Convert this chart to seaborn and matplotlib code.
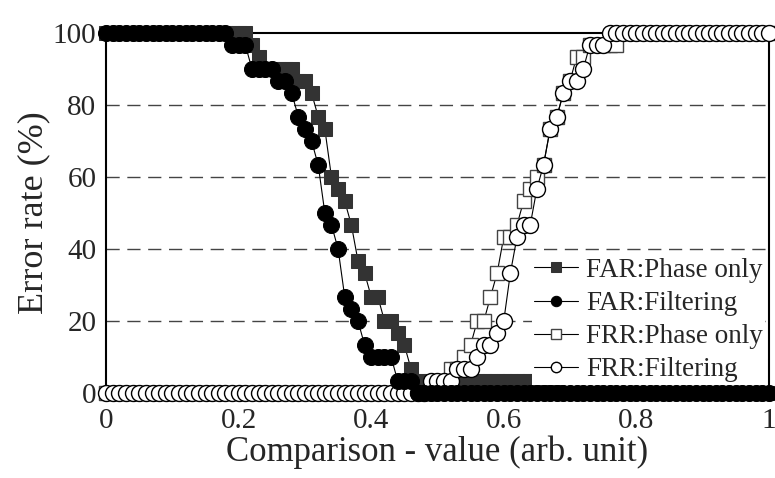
import numpy as np
import pandas as pd
import matplotlib
matplotlib.use("Agg")
import matplotlib.pyplot as plt
import seaborn as sns

# comparison value grid (0 .. 1, step 0.01)
comparison = np.linspace(0, 1, 101).round(2)

far_phase = ([100] * 22 + [96.7, 93.3] + [90] * 5 + [86.7] * 2 + [83.3, 76.7, 73.3, 60, 56.7,
             53.3, 46.7, 36.7, 33.3, 26.7, 26.7, 20, 20, 16.7, 13.3, 6.7] + [3.3] * 22 + [0] * 32)
far_filt = ([100] * 19 + [96.7] * 3 + [90] * 4 + [86.7] * 2 + [83.3, 76.7, 73.3, 70, 63.3, 50,
            46.7, 40, 26.7, 23.3, 20, 13.3] + [10] * 4 + [3.3] * 3 + [0] * 54)
frr_phase = ([0] * 51 + [3.3, 6.7, 6.7, 10, 13.3, 20, 20, 26.7, 33.3, 43.3, 43.3, 46.7, 53.3,
             56.7, 60, 63.3, 73.3, 76.7, 83.3, 86.7, 93.3, 93.3] + [96.7] * 5 + [100] * 23)
frr_filt = ([0] * 49 + [3.3] * 4 + [6.7, 6.7, 6.7, 10, 13.3, 13.3, 16.7, 20, 33.3, 43.3, 46.7,
            46.7, 56.7, 63.3, 73.3, 76.7, 83.3, 86.7, 86.7, 90, 96.7, 96.7, 96.7] + [100] * 25)

labels = ["FAR:Phase only", "FAR:Filtering", "FRR:Phase only", "FRR:Filtering"]

df = pd.DataFrame({"x": comparison, labels[0]: far_phase, labels[1]: far_filt,
                   labels[2]: frr_phase, labels[3]: frr_filt})

sns.set_style("white")
plt.rcParams['font.family'] = ['Liberation Serif', 'DejaVu Serif']

fig = plt.figure(figsize=(7.75, 4.78), dpi=100)
ax = fig.add_axes([0.137, 0.178, 0.855, 0.753])

styles = {
    labels[0]: dict(marker='s', markersize=10, markerfacecolor='#333333', markeredgecolor='#333333',
                    zorder=3),
    labels[1]: dict(marker='o', markersize=11.5, markerfacecolor='black', markeredgecolor='black',
                    zorder=6),
    labels[2]: dict(marker='s', markersize=10, markerfacecolor='white', markeredgecolor='#444444',
                    markeredgewidth=1.0, zorder=4),
    labels[3]: dict(marker='o', markersize=11.5, markerfacecolor='white', markeredgecolor='black',
                    markeredgewidth=1.0, zorder=5),
}

for lab in labels:
    sns.lineplot(data=df, x="x", y=lab, ax=ax, color='black', linewidth=0.8,
                 label=lab, clip_on=False, **styles[lab])

ax.set_xlim(0, 1)
ax.set_ylim(0, 100)
ax.set_xticks([0, 0.2, 0.4, 0.6, 0.8, 1.0])
ax.set_xticklabels(["0", "0.2", "0.4", "0.6", "0.8", "1"])
ax.set_yticks([0, 20, 40, 60, 80, 100])
ax.tick_params(axis='both', labelsize=21, length=0)
ax.tick_params(axis='x', pad=11)
ax.tick_params(axis='y', pad=7)
ax.set_xlabel("Comparison - value (arb. unit)", fontsize=25, labelpad=1)
ax.set_ylabel("Error rate (%)", fontsize=26, labelpad=2)

for y in [20, 40, 60, 80]:
    ax.axhline(y, color='#444444', linestyle=(0, (9.5, 5.5)), linewidth=1.0, zorder=0)

for s in ax.spines.values():
    s.set_color('black')
    s.set_linewidth(1.5)

leg = ax.legend(loc='lower right', bbox_to_anchor=(0.995, 0.022), fontsize=19.5, frameon=True,
                framealpha=1, edgecolor='none', fancybox=False, markerscale=0.65,
                handlelength=1.6, handletextpad=0.3, labelspacing=0.3, borderpad=0.1,
                borderaxespad=0)
leg.set_zorder(10)

fig.savefig("out.png", dpi=100)
